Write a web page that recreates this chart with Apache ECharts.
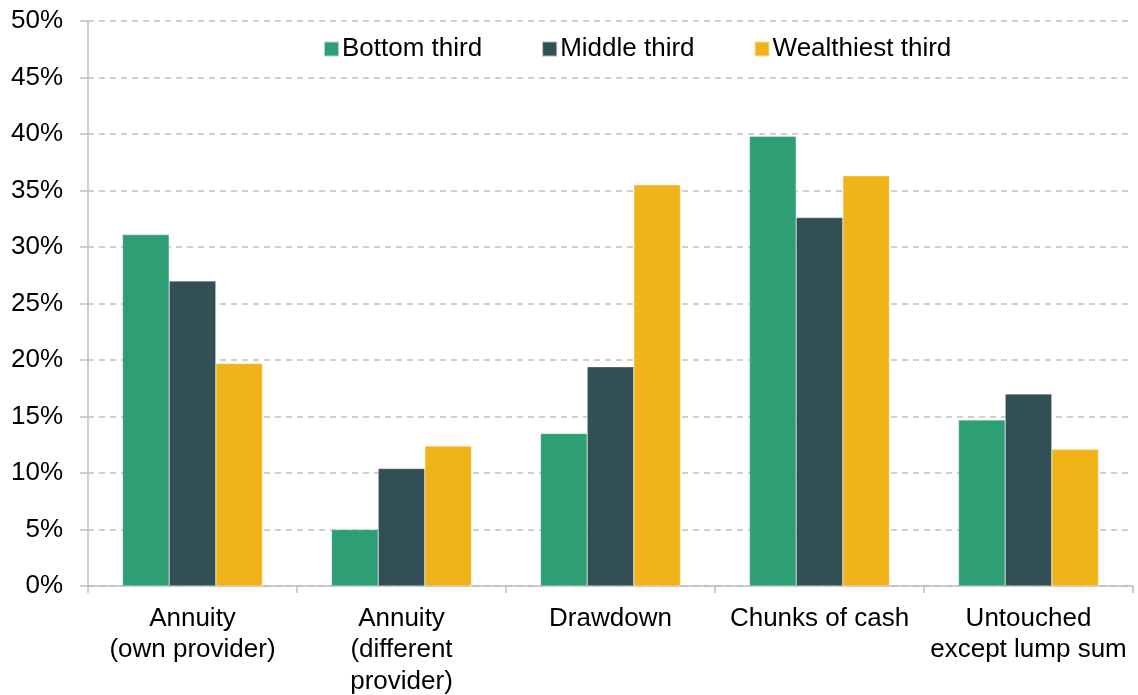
<!DOCTYPE html>
<html>
<head>
<meta charset="utf-8">
<script src="https://cdn.jsdelivr.net/npm/echarts@6/dist/echarts.min.js"></script>
<style>
  html, body { margin: 0; padding: 0; background: #fff; }
  #chart { width: 1138px; height: 695px; }
</style>
</head>
<body>
<div id="chart"></div>
<script>
// 类别与数据
var categories = ['Annuity\n(own provider)', 'Annuity\n(different\nprovider)', 'Drawdown', 'Chunks of cash', 'Untouched\nexcept lump sum'];
var bottomThird = [31.1, 5.0, 13.5, 39.8, 14.7];
var middleThird = [27.0, 10.4, 19.4, 32.6, 17.0];
var wealthiestThird = [19.7, 12.4, 35.5, 36.3, 12.1];
var yTicks = [0, 5, 10, 15, 20, 25, 30, 35, 40, 45, 50];

(function () {
    var myChart = echarts.init(document.getElementById('chart'));
    var font = 'Liberation Sans, Arial, sans-serif';

    function bar(name, data, color) {
        return {
            name: name,
            type: 'bar',
            data: data,
            barGap: '0%',
            barCategoryGap: '33%',
            itemStyle: { color: color, borderColor: 'rgba(255,255,255,0.6)', borderWidth: 0.5 }
        };
    }

    var option = {
        animation: false,
        grid: { left: 88, right: 5, top: 21, bottom: 109, outerBoundsMode: 'none' },
        legend: {
            top: 36,
            left: 323,
            padding: 0,
            itemWidth: 15,
            itemHeight: 15,
            itemGap: 59,
            icon: 'rect',
            textStyle: { fontFamily: font, fontSize: 26, color: '#000', padding: [0, 0, 0, -2] },
            data: ['Bottom third', 'Middle third', 'Wealthiest third']
        },
        xAxis: {
            type: 'category',
            data: categories,
            axisLine: { lineStyle: { color: '#bfbfbf', width: 1.5 } },
            axisTick: { show: true, length: 7, lineStyle: { color: '#bfbfbf', width: 1.5 } },
            axisLabel: { fontFamily: font, fontSize: 26, color: '#000', margin: 17, lineHeight: 31.5, interval: 0 }
        },
        yAxis: {
            type: 'value',
            min: yTicks[0],
            max: yTicks[yTicks.length - 1],
            interval: 5,
            axisLine: { show: true, lineStyle: { color: '#bfbfbf', width: 1.5 } },
            axisTick: { show: true, length: 8, lineStyle: { color: '#c0c0c0', width: 1.5 } },
            splitLine: { lineStyle: { type: [6, 5], color: '#c0c0c0', width: 1.5 } },
            axisLabel: {
                fontFamily: font, fontSize: 26, color: '#000', margin: 25,
                formatter: function (v) { return v + '%'; }
            }
        },
        series: [
            bar('Bottom third', bottomThird, '#2e9e74'),
            bar('Middle third', middleThird, '#324f55'),
            bar('Wealthiest third', wealthiestThird, '#f0b41a')
        ]
    };

    myChart.setOption(option);
})();
</script>
</body>
</html>
